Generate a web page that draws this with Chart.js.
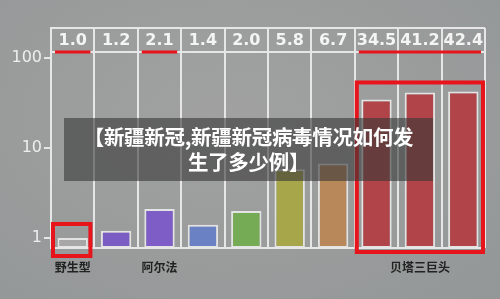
<!DOCTYPE html>
<html>
<head>
<meta charset="utf-8">
<script src="https://cdn.jsdelivr.net/npm/chart.js@4"></script>
<style>
  html, body { margin: 0; padding: 0; }
  body {
    width: 500px; height: 299px; overflow: hidden;
    background: radial-gradient(ellipse at 45% 40%, #a1a1a1 0%, #9a9c9c 55%, #939797 100%);
    position: relative;
  }
  #wrap { position: absolute; left: 0; top: 0; width: 500px; height: 299px; }
  #banner {
    position: absolute; left: 64px; top: 118px; width: 369px; height: 63px;
    background: rgba(55, 55, 55, 0.6);
    color: #fff; font-family: "Noto Sans CJK SC", sans-serif; font-weight: bold;
    font-size: 20.5px; line-height: 25px; text-align: center; letter-spacing: -0.3px;
    padding-top: 6px; box-sizing: border-box; white-space: nowrap;
  }
</style>
</head>
<body>
<div id="wrap"><canvas id="variantChart" width="500" height="299"></canvas></div>
<div id="banner">【新疆新冠,新疆新冠病毒情况如何发<br>生了多少例】</div>
<script>
// значения относительно дикого типа
const topLabels = ['1.0', '1.2', '2.1', '1.4', '2.0', '5.8', '6.7', '34.5', '41.2', '42.4'];
const values = [1.0, 1.2, 2.1, 1.4, 2.0, 5.8, 6.7, 34.5, 41.2, 42.4];
const groupLabels = ['野生型', '', '阿尔法', '', '', '', '', '', '贝塔三巨头', ''];
const barColors = ['#a7a7a7', '#7b5cc3', '#7e5ec6', '#6a81c4', '#74ab54', '#a7a64a', '#b9885a', '#b04448', '#b04448', '#b04448'];
const yTicks = [1, 10, 100];
const underlined = [[0, 0], [2, 2], [7, 9]];   // красные подчёркивания (индексы колонок)
const boxes = [[0, 0], [7, 9]];               // красные рамки

// Плагин для верхней строки значений, линий и рамок
const decorPlugin = {
    id: 'decor',
    afterDatasetsDraw(chart) {
        const ctx = chart.ctx;
        const area = chart.chartArea;
        const x = chart.scales.x;
        const y = chart.scales.y;
        const half = (x.getPixelForValue(1) - x.getPixelForValue(0)) / 2;
        const rowBottom = area.top + 24;

        ctx.save();
        ctx.strokeStyle = '#e6e6e6';
        ctx.lineWidth = 2;
        ctx.beginPath();
        ctx.moveTo(area.left, area.top); ctx.lineTo(area.right, area.top);
        ctx.moveTo(area.left, rowBottom); ctx.lineTo(area.right, rowBottom);
        ctx.moveTo(area.left, area.bottom); ctx.lineTo(area.right, area.bottom);
        ctx.stroke();

        ctx.fillStyle = '#f4f4f4';
        ctx.font = 'bold 16px "DejaVu Sans"';
        ctx.textAlign = 'center';
        ctx.textBaseline = 'middle';
        topLabels.forEach((t, i) => {
            ctx.fillText(t, x.getPixelForValue(i), area.top + 13);
        });

        ctx.strokeStyle = '#e8141c';
        ctx.lineWidth = 3;
        underlined.forEach(([a, b]) => {
            ctx.beginPath();
            ctx.moveTo(x.getPixelForValue(a) - half + 4, rowBottom);
            ctx.lineTo(x.getPixelForValue(b) + half - 4, rowBottom);
            ctx.stroke();
        });

        ctx.lineWidth = 4;
        // рамка вокруг дикого типа
        let l = x.getPixelForValue(boxes[0][0]) - half + 2;
        let r = x.getPixelForValue(boxes[0][1]) + half - 4;
        let top = y.getPixelForValue(values[0]) - 14;
        ctx.strokeRect(l, top, r - l, area.bottom + 8 - top);
        // рамка вокруг бета
        l = x.getPixelForValue(boxes[1][0]) - half + 2;
        r = x.getPixelForValue(boxes[1][1]) + half - 2;
        top = y.getPixelForValue(Math.max(...values.slice(7))) - 9;
        ctx.strokeRect(l, top, r - l, area.bottom + 4 - top);
        ctx.restore();
    }
};

new Chart(document.getElementById('variantChart'), {
    type: 'bar',
    data: {
        labels: groupLabels,
        datasets: [{
            data: values,
            backgroundColor: barColors,
            borderColor: 'rgba(235, 235, 235, 0.9)',
            borderWidth: 2,
            borderSkipped: false,
            barPercentage: 0.7,
            categoryPercentage: 1
        }]
    },
    options: {
        responsive: false,
        animation: false,
        devicePixelRatio: 1,
        layout: { padding: { top: 28, right: 15, left: 0, bottom: 0 } },
        plugins: { legend: { display: false }, tooltip: { enabled: false } },
        scales: {
            x: {
                offset: true,
                grid: { color: '#e6e6e6', lineWidth: 2, offset: true, drawTicks: false },
                border: { display: false },
                ticks: {
                    color: '#222',
                    font: { family: '"Noto Sans CJK SC"', weight: 'bold', size: 12 },
                    padding: 12,
                    autoSkip: false,
                    maxRotation: 0
                },
                afterFit: s => { s.height = 51; }
            },
            y: {
                type: 'logarithmic',
                min: 0.774,
                max: 215,
                afterBuildTicks: s => { s.ticks = yTicks.map(v => ({ value: v })); },
                grid: { drawOnChartArea: false, color: '#e6e6e6', lineWidth: 2, tickLength: 7 },
                border: { color: '#e6e6e6', width: 2 },
                ticks: {
                    color: '#eeeeee',
                    font: { family: '"DejaVu Sans"', size: 16 },
                    padding: 2,
                    callback: v => String(v)
                },
                afterFit: s => { s.width = 51; }
            }
        }
    },
    plugins: [decorPlugin]
});
</script>
</body>
</html>
